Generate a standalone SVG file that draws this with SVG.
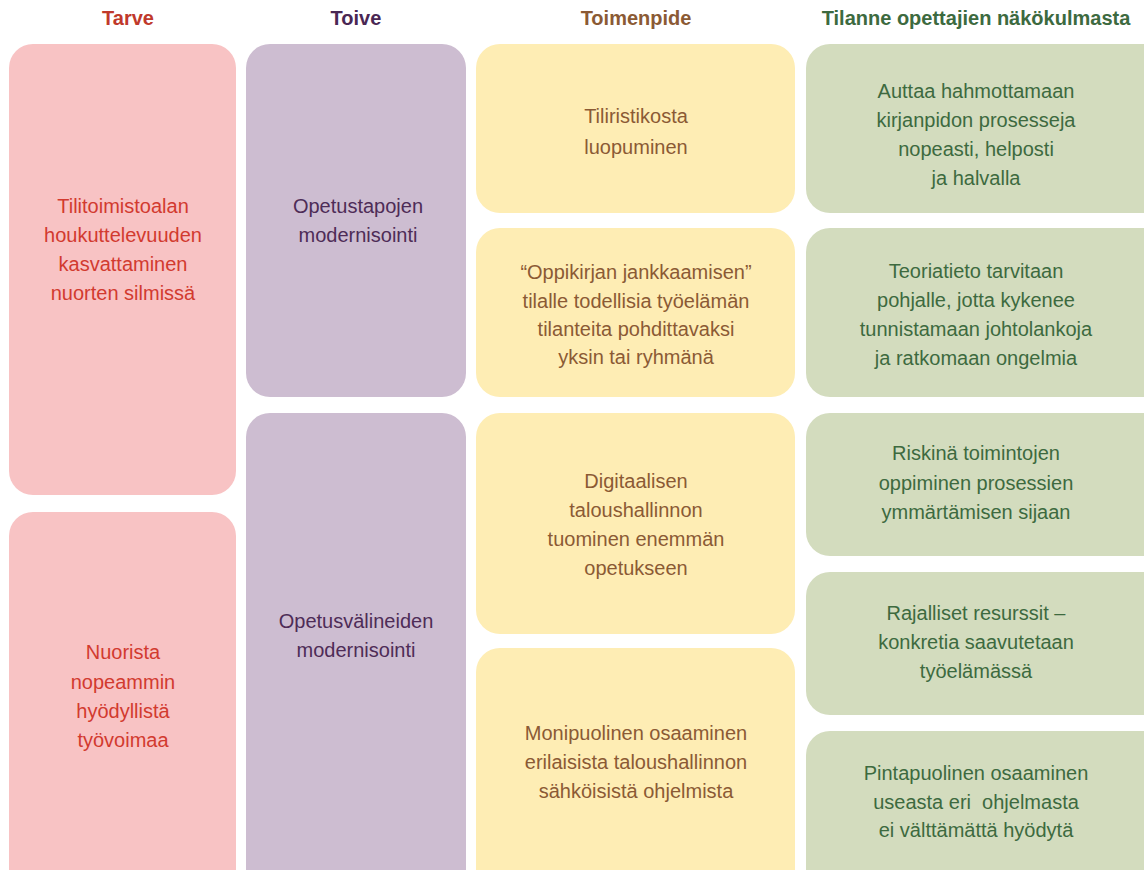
<svg xmlns="http://www.w3.org/2000/svg" width="1144" height="870" viewBox="0 0 1144 870">
<style>
text{font-family:"Liberation Sans",Arial,sans-serif;font-size:20px;text-anchor:middle}
.h{font-weight:bold}
.pk{fill:#F8C3C4}.pu{fill:#CDBDD1}.ye{fill:#FEEDB4}.gr{fill:#D3DCBE}
.tpk{fill:#D23A2F}.tpu{fill:#4E2C57}.tye{fill:#8B5A34}.tgr{fill:#3D6A3F}
.hpk{fill:#C0392B}.hpu{fill:#4A2754}.hye{fill:#8B5A34}.hgr{fill:#3D6A3F}
</style>
<rect width="1144" height="870" fill="#ffffff"/>
<g id="headers">
<text class="h hpk" x="128" y="25">Tarve</text>
<text class="h hpu" x="356" y="25">Toive</text>
<text class="h hye" x="636" y="25">Toimenpide</text>
<text class="h hgr" x="976" y="25">Tilanne opettajien näkökulmasta</text>
</g>
<g id="tarve1"><rect class="pk" x="9" y="44" width="227" height="451" rx="24"/>
<text class="tpk" x="123" y="213">Tilitoimistoalan</text><text class="tpk" x="123" y="242">houkuttelevuuden</text><text class="tpk" x="123" y="271">kasvattaminen</text><text class="tpk" x="123" y="300">nuorten silmissä</text></g>
<g id="tarve2"><rect class="pk" x="9" y="512" width="227" height="400" rx="24"/>
<text class="tpk" x="123" y="659">Nuorista</text><text class="tpk" x="123" y="689">nopeammin</text><text class="tpk" x="123" y="718">hyödyllistä</text><text class="tpk" x="123" y="747">työvoimaa</text></g>
<g id="toive1"><rect class="pu" x="246" y="44" width="220" height="353" rx="24"/>
<text class="tpu" x="358" y="213">Opetustapojen</text><text class="tpu" x="358" y="242">modernisointi</text></g>
<g id="toive2"><rect class="pu" x="246" y="413" width="220" height="500" rx="24"/>
<text class="tpu" x="356" y="628">Opetusvälineiden</text><text class="tpu" x="356" y="657">modernisointi</text></g>
<g id="toimenpide1"><rect class="ye" x="476" y="44" width="319" height="169" rx="24"/>
<text class="tye" x="636" y="123">Tiliristikosta</text><text class="tye" x="636" y="154">luopuminen</text></g>
<g id="toimenpide2"><rect class="ye" x="476" y="228" width="319" height="169" rx="24"/>
<text class="tye" x="636" y="279">“Oppikirjan jankkaamisen”</text><text class="tye" x="636" y="308">tilalle todellisia työelämän</text><text class="tye" x="636" y="336">tilanteita pohdittavaksi</text><text class="tye" x="636" y="364">yksin tai ryhmänä</text></g>
<g id="toimenpide3"><rect class="ye" x="476" y="413" width="319" height="221" rx="24"/>
<text class="tye" x="636" y="488">Digitaalisen</text><text class="tye" x="636" y="517">taloushallinnon</text><text class="tye" x="636" y="546">tuominen enemmän</text><text class="tye" x="636" y="575">opetukseen</text></g>
<g id="toimenpide4"><rect class="ye" x="476" y="648" width="319" height="265" rx="24"/>
<text class="tye" x="636" y="740">Monipuolinen osaaminen</text><text class="tye" x="636" y="769">erilaisista taloushallinnon</text><text class="tye" x="636" y="798">sähköisistä ohjelmista</text></g>
<g id="tilanne1"><rect class="gr" x="806" y="44" width="360" height="169" rx="24"/>
<text class="tgr" x="976" y="98">Auttaa hahmottamaan</text><text class="tgr" x="976" y="127">kirjanpidon prosesseja</text><text class="tgr" x="976" y="156">nopeasti, helposti</text><text class="tgr" x="976" y="185">ja halvalla</text></g>
<g id="tilanne2"><rect class="gr" x="806" y="228" width="360" height="169" rx="24"/>
<text class="tgr" x="976" y="278">Teoriatieto tarvitaan</text><text class="tgr" x="976" y="307">pohjalle, jotta kykenee</text><text class="tgr" x="976" y="336">tunnistamaan johtolankoja</text><text class="tgr" x="976" y="365">ja ratkomaan ongelmia</text></g>
<g id="tilanne3"><rect class="gr" x="806" y="413" width="360" height="143" rx="24"/>
<text class="tgr" x="976" y="460">Riskinä toimintojen</text><text class="tgr" x="976" y="490">oppiminen prosessien</text><text class="tgr" x="976" y="519">ymmärtämisen sijaan</text></g>
<g id="tilanne4"><rect class="gr" x="806" y="572" width="360" height="143" rx="24"/>
<text class="tgr" x="976" y="620">Rajalliset resurssit –</text><text class="tgr" x="976" y="649">konkretia saavutetaan</text><text class="tgr" x="976" y="678">työelämässä</text></g>
<g id="tilanne5"><rect class="gr" x="806" y="731" width="360" height="180" rx="24"/>
<text class="tgr" x="976" y="780">Pintapuolinen osaaminen</text><text class="tgr" x="976" y="809" xml:space="preserve">useasta eri  ohjelmasta</text><text class="tgr" x="976" y="837">ei välttämättä hyödytä</text></g>
<g id="connectors"/>
</svg>
